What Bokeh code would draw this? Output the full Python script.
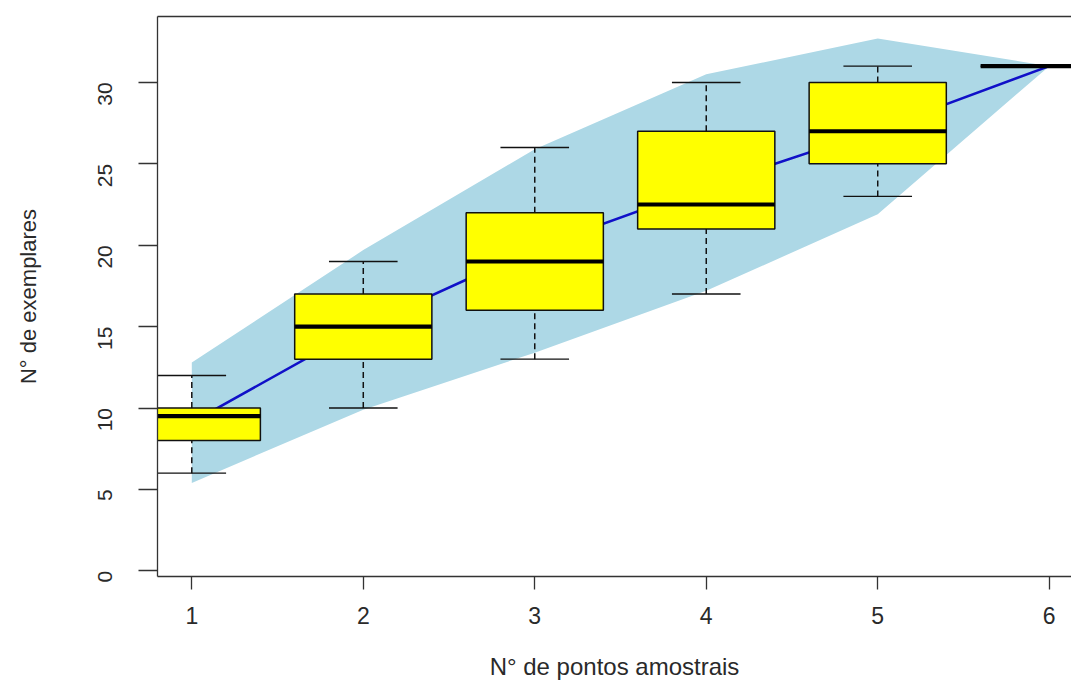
import math
from bokeh.plotting import figure
from bokeh.models import LinearAxis, FixedTicker, Range1d, ColumnDataSource
from bokeh.embed import file_html
from bokeh.resources import INLINE

# ---- data ----
sites = [1, 2, 3, 4, 5, 6]
richness_mean = [9.12, 15.0, 19.8, 23.6, 27.1, 31.0]
ci_upper = [12.8, 19.7, 25.9, 30.5, 32.7, 31.0]
ci_lower = [5.4, 9.9, 13.4, 17.2, 21.9, 31.0]

whisker_low = [6, 10, 13, 17, 23, 31]
q1 = [8, 13, 16, 21, 25, 31]
median = [9.5, 15, 19, 22.5, 27, 31]
q3 = [10, 17, 22, 27, 30, 31]
whisker_high = [12, 19, 26, 30, 31, 31]

x_ticks = [1, 2, 3, 4, 5, 6]
y_ticks = [0, 5, 10, 15, 20, 25, 30]
x_title = "N° de pontos amostrais"
y_title = "N° de exemplares"

FONT = "Liberation Sans"
BOX_HALF = 0.4
CAP_HALF = 0.2

p = figure(width=1071, height=683, output_backend="svg", toolbar_location=None,
           x_range=Range1d(0.8, 6.13), y_range=Range1d(-0.35, 34.05),
           min_border_left=157, min_border_right=0, min_border_top=16,
           min_border_bottom=107, x_axis_location=None, y_axis_location=None)
p.outline_line_color = None
p.grid.visible = False
p.background_fill_color = "white"
p.border_fill_color = "white"

# confidence band
px = sites + sites[::-1]
py = ci_upper + ci_lower[::-1]
p.patch(px, py, fill_color="#ADD8E6", line_color=None)

# accumulation curve
p.line(sites, richness_mean, line_color="#1010C8", line_width=2.6)

src = ColumnDataSource(dict(
    x=sites, lo=whisker_low, q1=q1, med=median, q3=q3, hi=whisker_high,
    left=[s - BOX_HALF for s in sites], right=[s + BOX_HALF for s in sites],
    cl=[s - CAP_HALF for s in sites], cr=[s + CAP_HALF for s in sites]))

# whiskers (dashed)
p.segment(x0="x", y0="lo", x1="x", y1="q1", source=src, line_color="#111111",
          line_width=1.5, line_dash="6 4")
p.segment(x0="x", y0="q3", x1="x", y1="hi", source=src, line_color="#111111",
          line_width=1.5, line_dash="6 4")
# staples
p.segment(x0="cl", y0="lo", x1="cr", y1="lo", source=src, line_color="#111111", line_width=1.4)
p.segment(x0="cl", y0="hi", x1="cr", y1="hi", source=src, line_color="#111111", line_width=1.4)
# boxes
p.quad(left="left", right="right", bottom="q1", top="q3", source=src,
       fill_color="#FFFF00", line_color="#111111", line_width=1.5)
# medians
p.segment(x0="left", y0="med", x1="right", y1="med", source=src,
          line_color="#000000", line_width=4.2)

AX_COLOR = "#333333"
TXT_COLOR = "#2a2a2a"

xaxis = LinearAxis(ticker=FixedTicker(ticks=x_ticks), axis_label=x_title)
xaxis.axis_line_color = AX_COLOR
xaxis.axis_line_width = 1.3
xaxis.major_tick_line_color = AX_COLOR
xaxis.major_tick_line_width = 1.3
xaxis.major_tick_out = 13
xaxis.major_tick_in = 0
xaxis.minor_tick_line_color = None
xaxis.major_label_text_font = FONT
xaxis.major_label_text_font_size = "23px"
xaxis.major_label_text_color = TXT_COLOR
xaxis.major_label_standoff = 17
xaxis.axis_label_text_font = FONT
xaxis.axis_label_text_font_size = "24px"
xaxis.axis_label_text_font_style = "normal"
xaxis.axis_label_text_color = TXT_COLOR
xaxis.axis_label_standoff = 26
p.add_layout(xaxis, "below")

yaxis = LinearAxis(ticker=FixedTicker(ticks=y_ticks), axis_label=y_title)
yaxis.axis_line_color = AX_COLOR
yaxis.axis_line_width = 1.3
yaxis.major_tick_line_color = AX_COLOR
yaxis.major_tick_line_width = 1.3
yaxis.major_tick_out = 19
yaxis.major_tick_in = 0
yaxis.minor_tick_line_color = None
yaxis.major_label_orientation = math.pi / 2
yaxis.major_label_text_font = FONT
yaxis.major_label_text_font_size = "21px"
yaxis.major_label_text_color = TXT_COLOR
yaxis.major_label_standoff = 33
yaxis.axis_label_text_font = FONT
yaxis.axis_label_text_font_size = "22px"
yaxis.axis_label_text_font_style = "normal"
yaxis.axis_label_text_color = TXT_COLOR
yaxis.axis_label_standoff = 48
p.add_layout(yaxis, "left")

# top border line of the box
top = LinearAxis(ticker=FixedTicker(ticks=[]))
top.axis_line_color = AX_COLOR
top.axis_line_width = 1.3
top.major_tick_line_color = None
top.minor_tick_line_color = None
top.major_label_text_font_size = "0px"
top.major_label_standoff = 0
p.add_layout(top, "above")

open("out.html", "w").write(file_html(p, INLINE))
